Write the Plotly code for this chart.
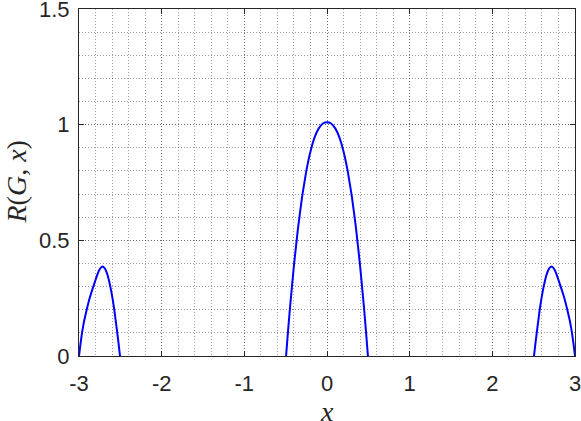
import plotly.graph_objects as go

left_x = [-3.0, -2.982, -2.964, -2.94, -2.907, -2.87, -2.827, -2.78, -2.75, -2.718,
          -2.69, -2.66, -2.621, -2.595, -2.573, -2.555, -2.537, -2.52, -2.504]
left_y = [0, 0.052, 0.099, 0.148, 0.2, 0.252, 0.3, 0.35, 0.375, 0.387,
          0.38, 0.356, 0.3, 0.25, 0.2, 0.15, 0.1, 0.05, 0]

center_x = [-0.495, -0.475, -0.45, -0.4, -0.35, -0.3, -0.25, -0.2, -0.15, -0.1, -0.05,
            0, 0.05, 0.1, 0.15, 0.2, 0.25, 0.3, 0.35, 0.4, 0.45, 0.475, 0.495]
center_y = [0, 0.091, 0.199, 0.391, 0.555, 0.691, 0.8, 0.884, 0.945, 0.984, 1.005,
            1.01, 1.005, 0.984, 0.945, 0.884, 0.8, 0.691, 0.555, 0.391, 0.199, 0.091, 0]

right_x = [2.504, 2.52, 2.537, 2.555, 2.573, 2.595, 2.621, 2.66, 2.69, 2.718,
           2.75, 2.78, 2.827, 2.87, 2.907, 2.94, 2.964, 2.982, 3.0]
right_y = [0, 0.05, 0.1, 0.15, 0.2, 0.25, 0.3, 0.356, 0.38, 0.387,
           0.375, 0.35, 0.3, 0.252, 0.2, 0.148, 0.099, 0.052, 0]

x_ticks = [-3, -2, -1, 0, 1, 2, 3]
y_ticks = [0, 0.5, 1, 1.5]
y_tick_text = ['0', '0.5', '1', '1.5']

AX = '#262626'
GRID = 'rgba(38,38,38,0.45)'
DOTS = '1px,2px'
TEX = 'Liberation Serif, serif'

fig = go.Figure()
for xs, ys in [(left_x, left_y), (center_x, center_y), (right_x, right_y)]:
    fig.add_trace(go.Scatter(
        x=xs, y=ys, mode='lines',
        line=dict(color='#0000ff', width=2, shape='spline', smoothing=0.3),
        showlegend=False, hoverinfo='skip'
    ))

axis_common = dict(
    showline=True, linecolor=AX, linewidth=1, mirror='ticks',
    ticks='inside', ticklen=5, tickcolor=AX, tickwidth=1,
    showgrid=True, gridcolor=GRID, griddash=DOTS, gridwidth=1,
    zeroline=False, automargin=False, ticklabeloverflow='allow',
    tickfont=dict(family='Liberation Sans, Arial, sans-serif', size=22, color=AX),
)

fig.update_xaxes(
    range=[-3, 3], tickvals=x_ticks, ticktext=[str(v) for v in x_ticks],
    minor=dict(dtick=0.2, tick0=-3, showgrid=True, gridcolor=GRID, griddash=DOTS, ticks=''),
    ticklabelstandoff=8,
    **axis_common
)
fig.update_yaxes(
    range=[0, 1.5], tickvals=y_ticks, ticktext=y_tick_text,
    minor=dict(dtick=0.1, tick0=0, showgrid=True, gridcolor=GRID, griddash=DOTS, ticks=''),
    ticklabelstandoff=4,
    **axis_common
)

# axis titles placed like the MATLAB/LaTeX labels
fig.add_annotation(text='<i>x</i>', xref='paper', yref='paper', x=0.5, y=0,
                   yanchor='middle', yshift=-55, showarrow=False,
                   font=dict(family=TEX, size=28, color=AX))
fig.add_annotation(text='<i>R</i>(<i>G</i>, <i>x</i>)', xref='paper', yref='paper',
                   x=0, y=0.5, xanchor='center', yanchor='middle', xshift=-63,
                   textangle=-90, showarrow=False,
                   font=dict(family=TEX, size=28, color=AX))

fig.update_layout(
    width=581, height=421,
    margin=dict(l=79, r=6, t=9, b=65),
    plot_bgcolor='white', paper_bgcolor='white',
)

# page body has a default 8px margin; drop it so the figure fills the window
fig.write_html("out.html", config={'displayModeBar': False},
               post_script="document.body.style.margin='0';")
